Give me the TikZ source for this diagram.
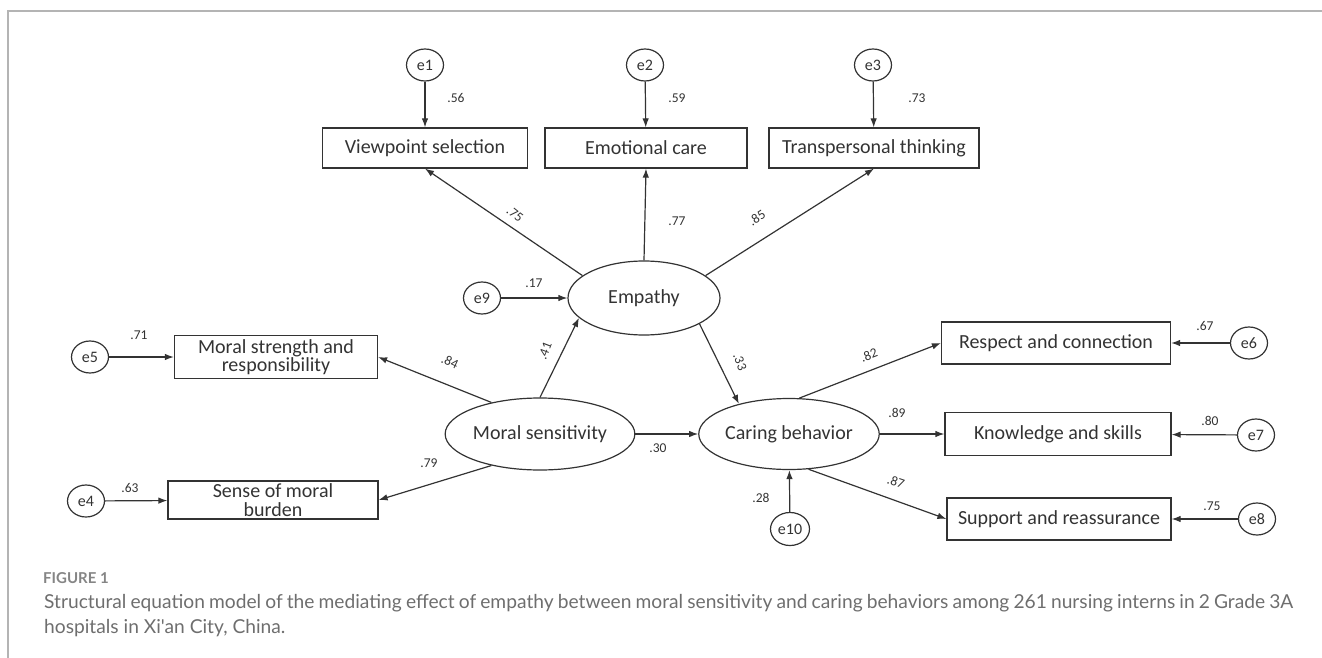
\documentclass[tikz,border=0pt]{standalone}
\usepackage{fontspec}
\setmainfont{Carlito}
\newfontfamily\capfont{Lato}
\usetikzlibrary{shapes.geometric,arrows.meta}
\definecolor{lc}{HTML}{333333}
\definecolor{framec}{HTML}{B4B4B4}
\definecolor{capc}{HTML}{6E6E6E}
\definecolor{figc}{HTML}{858585}
\tikzset{
  errnode/.style={ellipse, draw=lc, line width=1.2pt, minimum width=37pt, minimum height=32pt, inner sep=0pt, text=lc, font=\fontsize{16}{16}\selectfont},
  obs/.style={rectangle, draw=lc, line width=1.2pt, inner sep=0pt, text=lc, align=center, font=\fontsize{20}{20}\selectfont},
  lat/.style={ellipse, draw=lc, line width=1.2pt, inner sep=0pt, text=lc, font=\fontsize{20}{20}\selectfont},
  coef/.style={inner sep=0pt, text=lc, font=\fontsize{13.5}{13.5}\selectfont},
  arr/.style={draw=lc, line width=1.2pt, -{Latex[length=9pt,width=6.5pt]}},
  captext/.style={anchor=base west, inner sep=0pt, text=capc, font=\capfont\fontsize{19.2}{24}\selectfont}
}
\begin{document}
\begin{tikzpicture}[x=1pt,y=1pt]
\useasboundingbox (0,0) rectangle (1322,-658);
% frame
\coordinate (fa) at (8,-658);
\coordinate (fb) at (8,-11);
\coordinate (fc) at (1322,-11);
\draw[framec, line width=1.5pt] (fa) -- (fb) -- (fc);

% observed variables
\node[obs, minimum width=205pt, minimum height=40pt] (vp) at (425,-148) {Viewpoint selection};
\node[obs, minimum width=202pt, minimum height=40pt] (ec) at (646,-148) {Emotional care};
\node[obs, minimum width=210pt, minimum height=40pt] (tt) at (874,-148) {Transpersonal thinking};
\node[obs, minimum width=203pt, minimum height=43pt] (msr) at (276,-357) {Moral strength and\\[-2pt]responsibility};
\node[obs, minimum width=210pt, minimum height=38pt] (smb) at (273,-500) {Sense of moral\\[-1pt]burden};
\node[obs, minimum width=229pt, minimum height=42pt] (rc) at (1056,-343) {Respect and connection};
\node[obs, minimum width=226pt, minimum height=43pt] (ks) at (1058,-434) {Knowledge and skills};
\node[obs, minimum width=224pt, minimum height=42pt] (sr) at (1059,-519) {Support and reassurance};

% latent variables
\node[lat, minimum width=152pt, minimum height=74pt] (emp) at (644,-298) {Empathy};
\node[lat, minimum width=160pt, minimum height=72pt] (ms) at (540,-434) {Moral sensitivity};
\node[lat, minimum width=158pt, minimum height=71pt] (cb) at (789,-434) {Caring behavior};

% errors
\node[errnode] (e1) at (425,-65) {e1};
\node[errnode] (e2) at (645,-65) {e2};
\node[errnode] (e3) at (873,-65) {e3};
\node[errnode] (e9) at (482,-298) {e9};
\node[errnode] (e5) at (90,-357) {e5};
\node[errnode] (e4) at (86,-501) {e4};
\node[errnode] (e6) at (1249,-343) {e6};
\node[errnode] (e7) at (1256,-435) {e7};
\node[errnode] (e8) at (1257,-519) {e8};
\node[errnode, minimum width=39pt, minimum height=33pt] (e10) at (790,-529) {e10};

% connectors
\draw[arr] (e1) -- (vp);
\draw[arr] (e2) -- (ec);
\draw[arr] (e3) -- (tt);
\draw[arr] (emp.160) -- (vp.south);
\draw[arr] (emp.north) -- (ec.south);
\draw[arr] (emp.20) -- (tt.south);
\draw[arr] (e9) -- (emp);
\draw[arr] (ms.north) -- (emp.197);
\draw[arr] (ms.147) -- (msr.east);
\draw[arr] (ms.213) -- (smb.east);
\draw[arr] (e5) -- (msr);
\draw[arr] (e4) -- (smb);
\draw[arr] (ms) -- (cb);
\draw[arr] (emp.-25) -- (cb.149);
\draw[arr] (cb.74) -- (rc.west);
\draw[arr] (cb) -- (ks);
\draw[arr] (cb.-61) -- (sr.west);
\draw[arr] (e6) -- (rc);
\draw[arr] (e7) -- (ks);
\draw[arr] (e8) -- (sr);
\draw[arr] (e10) -- (cb);

% coefficients
\node[coef] (c56) at (456,-98) {.56};
\node[coef] (c59) at (677,-98) {.59};
\node[coef] (c73) at (917,-98) {.73};
\node[coef, rotate=-38] (c75a) at (515,-214) {.75};
\node[coef] (c77) at (677,-221) {.77};
\node[coef, rotate=33] (c85) at (757,-218) {.85};
\node[coef] (c17) at (534,-283) {.17};
\node[coef] (c71) at (139,-335) {.71};
\node[coef, rotate=-25] (c84) at (450,-362) {.84};
\node[coef, rotate=69] (c41) at (545,-351) {.41};
\node[coef] (c79) at (429,-463) {.79};
\node[coef] (c63) at (130,-488) {.63};
\node[coef] (c30) at (658,-448) {.30};
\node[coef, rotate=-69] (c33) at (740,-362) {.33};
\node[coef, rotate=21] (c82) at (869,-355) {.82};
\node[coef] (c67) at (1205,-326) {.67};
\node[coef] (c89) at (897,-413) {.89};
\node[coef] (c80) at (1210,-421) {.80};
\node[coef, rotate=-19] (c87) at (896,-482) {.87};
\node[coef] (c75b) at (1212,-506) {.75};
\node[coef] (c28) at (761,-498) {.28};

% caption
\node[anchor=base west, inner sep=0pt, text=figc, font=\capfont\bfseries\fontsize{15}{15}\selectfont] (figlab) at (43,-583) {FIGURE 1};
\node[captext] (cap1) at (44,-608) {\hbox to 1249pt{Structural equation model of the mediating effect of empathy between moral sensitivity and caring behaviors among 261 nursing interns in 2 Grade 3A}};
\node[captext] (cap2) at (44,-633) {hospitals in Xi'an City, China.};
\end{tikzpicture}
\end{document}
